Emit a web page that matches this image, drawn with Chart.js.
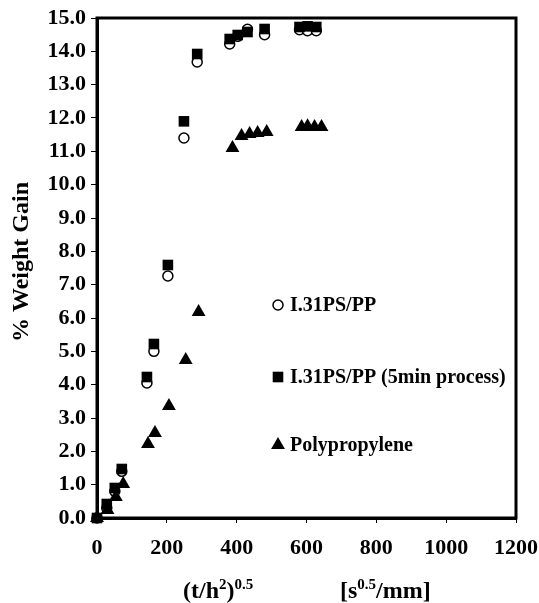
<!DOCTYPE html>
<html>
<head>
<meta charset="utf-8">
<script src="https://cdn.jsdelivr.net/npm/chart.js@4.4.1/dist/chart.umd.min.js"></script>
<style>
  body { margin: 0; background: #fff; }
  #wrap { width: 539px; height: 603px; position: relative; }
</style>
</head>
<body>
<div id="wrap"><canvas id="myChart"></canvas></div>
<script>
const seriesNames = ['I.31PS/PP', 'I.31PS/PP (5min process)', 'Polypropylene'];

const psX = [0, 28, 51, 71, 143, 163, 203, 249, 287, 380, 403, 431, 480, 580, 603, 628];
const psY = [0, 0.3, 0.8, 1.4, 4.05, 5.0, 7.26, 11.4, 13.68, 14.22, 14.45, 14.66, 14.5, 14.65, 14.62, 14.62];

const ps5X = [0, 28, 51, 71, 143, 163, 203, 249, 287, 380, 403, 431, 480, 580, 603, 628];
const ps5Y = [0, 0.42, 0.9, 1.47, 4.23, 5.22, 7.59, 11.9, 13.92, 14.37, 14.49, 14.58, 14.67, 14.73, 14.75, 14.73];

const ppX = [0, 30, 54, 75, 146, 166, 206, 254, 291, 388, 414, 437, 460, 486, 586, 603, 623, 643];
const ppY = [0, 0.24, 0.63, 1.02, 2.22, 2.55, 3.36, 4.74, 6.18, 11.1, 11.46, 11.52, 11.55, 11.58, 11.73, 11.75, 11.73, 11.73];

const xTicks = [0, 200, 400, 600, 800, 1000, 1200];
const yTicks = [0, 1, 2, 3, 4, 5, 6, 7, 8, 9, 10, 11, 12, 13, 14, 15];

// zip x and y into points
function toPoints(xs, ys) {
  const pts = [];
  for (let i = 0; i < xs.length; i++) {
    pts.push({ x: xs[i], y: ys[i] });
  }
  return pts;
}

const serif = "'Liberation Serif', 'Times New Roman', serif";
Chart.defaults.font.family = serif;
Chart.defaults.font.weight = 'bold';
Chart.defaults.color = '#000';

// box around the plot
const framePlugin = {
  id: 'frame',
  beforeDatasetsDraw(chart) {
    const a = chart.chartArea;
    const c = chart.ctx;
    c.save();
    c.strokeStyle = '#000';
    c.lineWidth = 3;
    c.strokeRect(a.left, a.top, a.right - a.left, a.bottom - a.top);
    c.restore();
  }
};

// axis titles with superscripts
function drawRun(c, parts, x, baseline) {
  for (const p of parts) {
    c.font = 'bold ' + (p.sup ? 15 : 24) + 'px ' + serif;
    c.fillText(p.t, x, baseline - (p.sup ? 9 : 0));
    x += c.measureText(p.t).width;
  }
}

const titlePlugin = {
  id: 'titles',
  afterDraw(chart) {
    const c = chart.ctx;
    c.save();
    c.fillStyle = '#000';
    c.textBaseline = 'alphabetic';
    c.textAlign = 'left';
    drawRun(c, [{ t: '(t/h' }, { t: '2', sup: true }, { t: ')' }, { t: '0.5', sup: true }], 183, 598);
    drawRun(c, [{ t: '[s' }, { t: '0.5', sup: true }, { t: '/mm]' }], 340, 598);

    c.translate(22, 262);
    c.rotate(-Math.PI / 2);
    c.textAlign = 'center';
    c.textBaseline = 'middle';
    c.font = 'bold 24px ' + serif;
    c.fillText('% Weight Gain', 0, 0);
    c.restore();
  }
};

// legend sits inside the plot, items far apart
const legendRows = [305, 377, 445];
const legendPlugin = {
  id: 'innerLegend',
  afterDatasetsDraw(chart) {
    const c = chart.ctx;
    c.save();
    chart.data.datasets.forEach((ds, i) => {
      const y = legendRows[i];
      c.fillStyle = ds.pointBackgroundColor;
      c.strokeStyle = ds.pointBorderColor;
      c.lineWidth = ds.pointBorderWidth;
      Chart.helpers.drawPoint(c, { pointStyle: ds.pointStyle, radius: ds.pointRadius, rotation: 0, borderWidth: ds.pointBorderWidth }, 278, y);
      c.fillStyle = '#000';
      c.font = 'bold 20px ' + serif;
      c.textBaseline = 'middle';
      c.textAlign = 'left';
      c.fillText(ds.label, 290, y + 1);
    });
    c.restore();
  }
};

const ctx = document.getElementById('myChart');

const gainChart = new Chart(ctx, {
  type: 'scatter',
  data: {
    datasets: [
      {
        label: seriesNames[0],
        data: toPoints(psX, psY),
        pointStyle: 'circle',
        pointRadius: 5,
        pointBorderWidth: 1.5,
        pointBackgroundColor: '#fff',
        pointBorderColor: '#000',
        order: 2,
        clip: false
      },
      {
        label: seriesNames[1],
        data: toPoints(ps5X, ps5Y),
        pointStyle: 'rect',
        pointRadius: 7.5,
        pointBorderWidth: 0,
        pointBackgroundColor: '#000',
        pointBorderColor: '#000',
        order: 1,
        clip: false
      },
      {
        label: seriesNames[2],
        data: toPoints(ppX, ppY),
        pointStyle: 'triangle',
        pointRadius: 8,
        pointBorderWidth: 0,
        pointBackgroundColor: '#000',
        pointBorderColor: '#000',
        order: 0,
        clip: false
      }
    ]
  },
  options: {
    responsive: true,
    maintainAspectRatio: false,
    animation: false,
    layout: { padding: { left: 0, right: 23, top: 18, bottom: 0 } },
    plugins: {
      legend: { display: false },
      tooltip: { enabled: false }
    },
    scales: {
      x: {
        type: 'linear',
        min: 0,
        max: 1200,
        afterBuildTicks: (s) => { s.ticks = xTicks.map(v => ({ value: v })); },
        afterFit: (s) => { s.height = 85; s.paddingRight = 0; s.paddingLeft = 0; },
        ticks: {
          font: { size: 22, weight: 'bold' },
          color: '#000',
          padding: 12,
          maxRotation: 0,
          callback: (v) => String(v)
        },
        grid: { drawOnChartArea: false, drawTicks: true, tickLength: 5, color: '#000', lineWidth: 1 },
        border: { color: '#000', width: 3 }
      },
      y: {
        min: 0,
        max: 15,
        afterBuildTicks: (s) => { s.ticks = yTicks.map(v => ({ value: v })); },
        afterFit: (s) => { s.width = 97; s.paddingTop = 0; s.paddingBottom = 0; },
        ticks: {
          font: { size: 22, weight: 'bold' },
          color: '#000',
          padding: 5,
          callback: (v) => v.toFixed(1)
        },
        grid: { drawOnChartArea: false, drawTicks: true, tickLength: 6, color: '#000', lineWidth: 1 },
        border: { color: '#000', width: 3 }
      }
    }
  },
  plugins: [framePlugin, legendPlugin, titlePlugin]
});
</script>
</body>
</html>
